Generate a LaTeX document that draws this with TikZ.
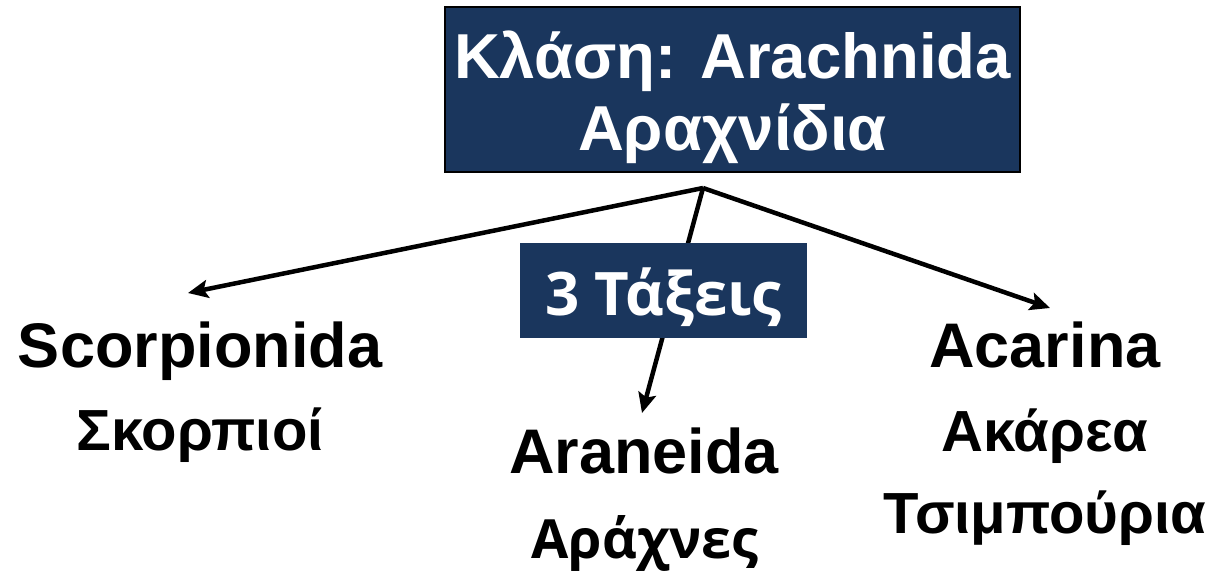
\documentclass[tikz,border=0pt]{standalone}
\usepackage{fontspec}
\setmainfont{Liberation Sans}
\newfontfamily\ordfont{Open Sans}
\usetikzlibrary{arrows.meta}
\definecolor{navy}{RGB}{26,54,93}

\begin{document}
\begin{tikzpicture}[x=1pt, y=-1pt,
	classbox/.style={draw=black, line width=1.5pt, fill=navy, text=white, font=\fontsize{63.5}{72}\selectfont\bfseries, align=center, minimum width=575pt, minimum height=165pt, inner sep=0pt, text height=130pt, text depth=9pt},
	orderbox/.style={fill=navy, text=white, font=\ordfont\fontsize{60}{70}\selectfont\bfseries, minimum width=287pt, minimum height=95pt, inner sep=0pt, text height=49pt, text depth=0pt},
	taxon/.style={font=\fontsize{63}{70}\selectfont\bfseries, anchor=base},
	common/.style={font=\fontsize{58}{66}\selectfont\bfseries, anchor=base},
	branch/.style={line width=4.5pt, line join=round, -{Stealth[length=20pt, width=18pt, inset=4pt]}}]

	% keep the page at the size of the slide
	\useasboundingbox (0,0) rectangle (1216,571);

	% the class at the top
	\node[classbox] (cls) at (732.5,89.5) {Κλάση: Arachnida\\Αραχνίδια};

	% the three orders, each line at its baseline
	\node[taxon] (scorpio) at (200,367) {Scorpionida};
	\node[common] (scorpio gr) at (200,450) {Σκορπιοί};
	\node[taxon] (aranea) at (644,473) {Araneida};
	\node[common, font=\ordfont\fontsize{54}{62}\selectfont\bfseries] (aranea gr) at (645,558) {Αράχνες};
	\node[taxon] (acari) at (1045,367) {Acarina};
	\node[common] (acari gr) at (1045,451) {Ακάρεα};
	\node[common] (ticks gr) at (1045,533) {Τσιμπούρια};

	% where the branches split and where they end
	\coordinate (apex) at (703,188);
	\coordinate (scorpio tip) at (188,293);
	\coordinate (aranea tip) at (642,413);
	\coordinate (acari tip) at (1050,308);

	\foreach \t in {scorpio tip, aranea tip, acari tip}
		\draw[branch] (apex) -- (\t);

	% label over the branches
	\node[orderbox] (orders) at (663.5,290.5) {3 Τάξεις};

\end{tikzpicture}
\end{document}
